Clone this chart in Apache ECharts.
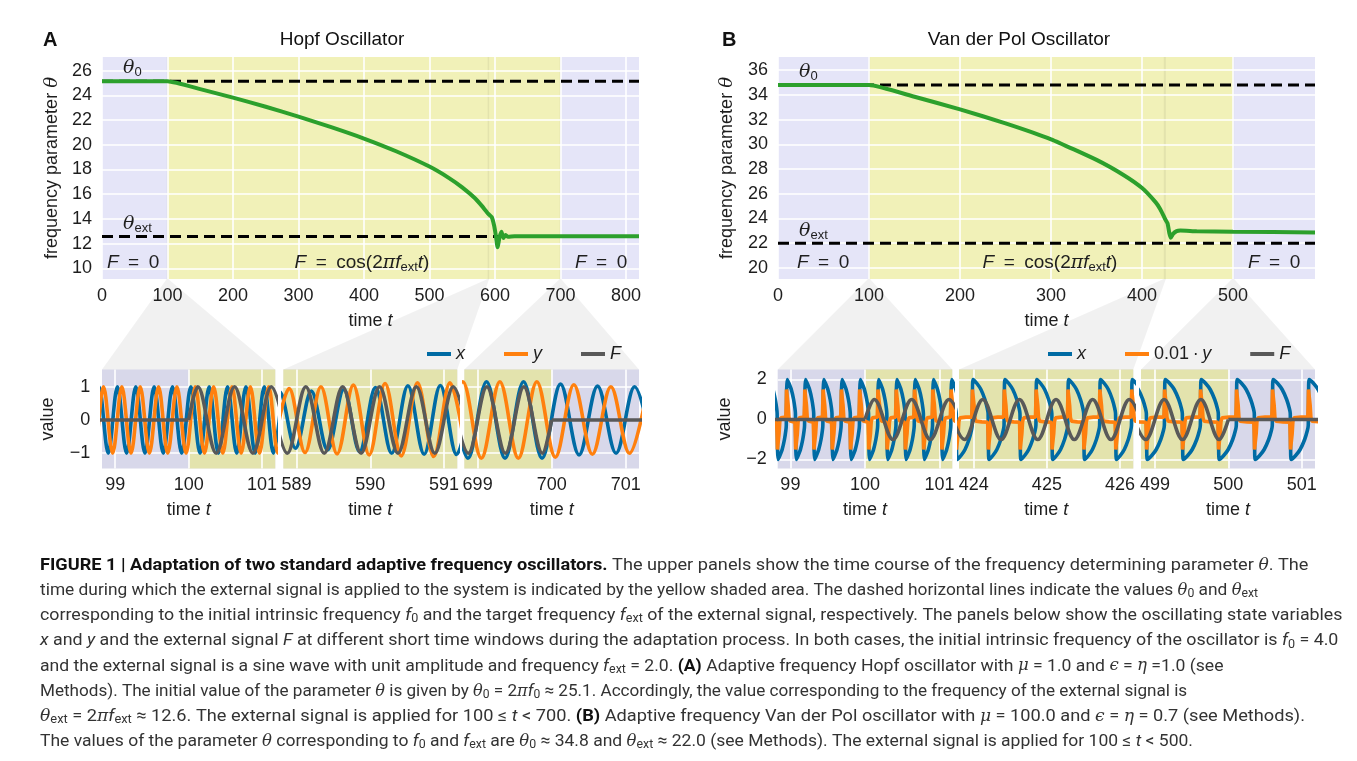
<!DOCTYPE html>
<html>
<head>
<meta charset="utf-8">
<title>Adaptive frequency oscillators</title>
<script src="https://cdn.jsdelivr.net/npm/echarts@6/dist/echarts.min.js"></script>
<style>
html, body { margin: 0; padding: 0; background: #fff; }
#main { width: 1357px; height: 761px; }
</style>
</head>
<body>
<div id="main"></div>
<script>
// ---- top panels: frequency parameter theta over time ----
var hopfTime  = [0, 100, 150, 200, 250, 300, 350, 400, 450, 500, 530, 550, 570, 580, 590, 595, 599, 601.5, 604, 607, 610, 613, 616, 620, 630, 700, 820];
var hopfTheta = [25.13, 25.13, 24.5, 23.81, 23.07, 22.28, 21.42, 20.5, 19.45, 18.23, 17.3, 16.55, 15.65, 15.05, 14.4, 14.15, 13.4, 12.6, 11.7, 12.5, 12.95, 12.45, 12.7, 12.55, 12.6, 12.6, 12.6];
var vdpTime   = [0, 100, 150, 200, 250, 300, 350, 380, 400, 415, 420, 425, 428, 430, 431.5, 434, 438, 442, 460, 500, 590];
var vdpTheta  = [34.8, 34.8, 33.85, 32.83, 31.7, 30.41, 28.74, 27.5, 26.46, 25.3, 24.75, 24.0, 23.6, 22.8, 22.43, 22.75, 22.98, 23.02, 22.96, 22.92, 22.87];

var hopfTheta0 = 25.13, hopfThetaExt = 12.57;
var vdpTheta0 = 34.8, vdpThetaExt = 22.0;

var hopfRangeX = [0, 820], hopfRangeY = [9.13, 27.1];
var vdpRangeX = [0, 590], vdpRangeY = [19.1, 37.07];
var hopfTicksX = [0, 100, 200, 300, 400, 500, 600, 700, 800];
var hopfTicksY = [10, 12, 14, 16, 18, 20, 22, 24, 26];
var vdpTicksX = [0, 100, 200, 300, 400, 500];
var vdpTicksY = [20, 22, 24, 26, 28, 30, 32, 34, 36];

// time during which the external signal is on
var hopfForcing = [[100, 700, 0]];
var vdpForcing = [[100, 500, 0]];

// ---- bottom panels: zoomed time windows ----
var hopfWindows = [[98.82, 101.18], [588.82, 591.18], [698.82, 701.18]];
var vdpWindows = [[98.83, 101.17], [423.8, 426.18], [498.81, 501.18]];
var hopfWinTicks = [[99, 100, 101], [589, 590, 591], [699, 700, 701]];
var vdpWinTicks = [[99, 100, 101], [424, 425, 426], [499, 500, 501]];
var hopfValRange = [-1.46, 1.52], vdpValRange = [-2.45, 2.5];
var hopfValTicks = [-1, 0, 1], vdpValTicks = [-2, 0, 2];

// Hopf x, y, F: extrema
var a1X = [[98.53,1],[98.655,-1],[98.78,1],[98.905,-1],[99.03,1],[99.155,-1],[99.28,1],[99.405,-1],[99.53,1],[99.655,-1],[99.78,1],[99.905,-1],[100.03,1],[100.155,-1],[100.28,1],[100.405,-1],[100.53,1],[100.655,-1],[100.78,1],[100.905,-1],[101.03,1],[101.155,-1],[101.28,1]];
var a1Y = [[98.59,1],[98.715,-1],[98.84,1],[98.965,-1],[99.09,1],[99.215,-1],[99.34,1],[99.465,-1],[99.59,1],[99.715,-1],[99.84,1],[99.965,-1],[100.09,1],[100.215,-1],[100.34,1],[100.465,-1],[100.59,1],[100.715,-1],[100.84,1],[100.965,-1],[101.09,1],[101.215,-1],[101.34,1]];
var a1Fflat = [[98.6,0],[100,0]];
var a1F = [[100,0],[100.125,1],[100.375,-1],[100.625,1],[100.875,-1],[101.125,1],[101.375,-1]];

var a2X = [[588.555,-0.85],[588.77,0.85],[588.985,-0.85],[589.2,0.87],[589.42,-0.9],[589.64,0.92],[589.855,-0.95],[590.07,0.98],[590.29,-1.0],[590.51,1.03],[590.73,-1.03],[590.95,1.04],[591.17,-1.04],[591.39,1.04]];
var a2Y = [[588.685,-0.95],[588.9,0.95],[589.115,-0.98],[589.33,1.0],[589.55,-1.02],[589.77,1.05],[589.985,-1.05],[590.2,1.1],[590.42,-1.08],[590.64,1.12],[590.86,-1.1],[591.08,1.12],[591.3,-1.1]];
var a2F = [[588.625,1],[588.875,-1],[589.125,1],[589.375,-1],[589.625,1],[589.875,-1],[590.125,1],[590.375,-1],[590.625,1],[590.875,-1],[591.125,1],[591.375,-1]];

var a3X = [[698.62,1.15],[698.87,-1.15],[699.12,1.15],[699.37,-1.15],[699.62,1.15],[699.87,-1.15],[700.12,1.08],[700.37,-1.05],[700.62,1.02],[700.87,-1.0],[701.12,1.0],[701.37,-1.0]];
var a3Y = [[698.55,-1.15],[698.8,1.15],[699.05,-1.15],[699.3,1.15],[699.55,-1.15],[699.8,1.15],[700.05,-1.12],[700.3,1.06],[700.55,-1.03],[700.8,1.0],[701.05,-1.0],[701.3,1.0]];
var a3F = [[698.625,1],[698.875,-1],[699.125,1],[699.375,-1],[699.625,1],[699.875,-1],[700,0]];
var a3Fflat = [[700,0],[701.4,0]];

// Van der Pol: times of the upward jumps of x, half period, and one cycle shape
// shape entries: [fixed offset, fraction of half period, value]
var b1Ups = [98.70, 98.945, 99.19, 99.435, 99.68, 99.925, 100.17, 100.415, 100.66, 100.905, 101.15];
var b2Ups = [423.545, 423.98, 424.415, 424.85, 425.285, 425.72, 426.155];
var b3Ups = [498.638, 499.128, 499.618, 500.108, 500.598, 501.088];
var vdpHalf = [0.1225, 0.2175, 0.245];
var vdpShapeX = [[0,0,-0.3],[0.005,0,1.5],[0.013,0,2.0],[0,0.3,1.8],[0,0.55,1.5],[0,0.8,1.0],[0,0.95,0.55],[0,1,0.3],
                 [0.005,1,-1.5],[0.013,1,-2.0],[0,1.3,-1.8],[0,1.55,-1.5],[0,1.8,-1.0],[0,1.95,-0.55]];
var vdpShapeY = [[-0.006,0,0.12],[0,0,0.9],[0.003,0,1.5],[0.018,0,1.45],[0.026,0,0.7],[0.036,0,0.1],[0.05,0,-0.08],[0,0.6,-0.12],[-0.006,1,-0.14],
                 [0,1,-0.9],[0.003,1,-1.5],[0.018,1,-1.45],[0.026,1,-0.7],[0.036,1,-0.1],[0.05,1,0.08],[0,1.6,0.12]];
var b1Fflat = [[98.6,0],[100,0]];
var b1F = [[100,0],[100.125,1],[100.375,-1],[100.625,1],[100.875,-1],[101.125,1],[101.375,-1]];
var b2F = [[423.625,1],[423.875,-1],[424.125,1],[424.375,-1],[424.625,1],[424.875,-1],[425.125,1],[425.375,-1],[425.625,1],[425.875,-1],[426.125,1],[426.375,-1]];
var b3F = [[498.625,1],[498.875,-1],[499.125,1],[499.375,-1],[499.625,1],[499.875,-1],[500,0]];
var b3Fflat = [[500,0],[501.4,0]];

var captionLines = [
  '{b|FIGURE 1 | Adaptation of two standard adaptive frequency oscillators.} The upper panels show the time course of the frequency determining parameter {g|θ}. The',
  'time during which the external signal is applied to the system is indicated by the yellow shaded area. The dashed horizontal lines indicate the values {g|θ}{s|0} and {g|θ}{s|ext}',
  'corresponding to the initial intrinsic frequency {i|f}{s|0} and the target frequency {i|f}{s|ext} of the external signal, respectively. The panels below show the oscillating state variables',
  '{i|x} and {i|y} and the external signal {i|F} at different short time windows during the adaptation process. In both cases, the initial intrinsic frequency of the oscillator is {i|f}{s|0} = 4.0',
  'and the external signal is a sine wave with unit amplitude and frequency {i|f}{s|ext} = 2.0. {b|(A)} Adaptive frequency Hopf oscillator with {g|μ} = 1.0 and {g|ϵ} = {g|η} =1.0 (see',
  'Methods). The initial value of the parameter {g|θ} is given by {g|θ}{s|0} = 2{g|π}{i|f}{s|0} ≈ 25.1. Accordingly, the value corresponding to the frequency of the external signal is',
  '{g|θ}{s|ext} = 2{g|π}{i|f}{s|ext} ≈ 12.6. The external signal is applied for 100 ≤ {i|t} < 700. {b|(B)} Adaptive frequency Van der Pol oscillator with {g|μ} = 100.0 and {g|ϵ} = {g|η} = 0.7 (see Methods).',
  'The values of the parameter {g|θ} corresponding to {i|f}{s|0} and {i|f}{s|ext} are {g|θ}{s|0} ≈ 34.8 and {g|θ}{s|ext} ≈ 22.0 (see Methods). The external signal is applied for 100 ≤ {i|t} < 500.'
];
// where each caption line ends on the page
var captionEnds = [1350, 1228, 1350, 1350, 1215, 1141, 1350, 1178];

// ---- styling ----
var FONT = '"Liberation Sans", Arial, sans-serif';
var MATH = '"DejaVu Serif", serif';
var CAP_FONT = 'Roboto, "Liberation Sans", sans-serif';
var INK = '#1e1e1e';
var LAV = '#e5e5f8', YEL = '#f1f1b8';
var BLUE = '#006ba4', ORANGE = '#ff800e', GRAY = '#595959', GREEN = '#2ca02c';

var chart = echarts.init(document.getElementById('main'), null, { renderer: 'canvas' });

function zip(a, b) { return a.map(function (v, i) { return [v, b[i]]; }); }
function relax(ups, half, shape) {
  var pts = [];
  ups.forEach(function (u) {
    shape.forEach(function (s) { pts.push([u + s[0] + s[1] * half, s[2]]); });
  });
  return pts;
}
function minus(v) { return String(v).replace('-', '\u2212'); }

var richName = {
  i: { fontSize: 18, fontStyle: 'italic', fontFamily: FONT, color: INK },
  g: { fontSize: 18, fontStyle: 'italic', fontFamily: MATH, color: INK }
};

var grids = [], xAxes = [], yAxes = [], series = [];

function addPanel(box, rx, ry, tx, ty, yName, xGap, yGap, xMargin, yMargin, showY) {
  var gi = grids.length;
  grids.push({ left: box[0], top: box[1], width: box[2], height: box[3], show: true,
    backgroundColor: LAV, borderWidth: 0 });
  xAxes.push({ type: 'value', gridIndex: gi, min: rx[0], max: rx[1], z: 2,
    axisLine: { show: false }, axisTick: { show: false, customValues: tx },
    axisLabel: { customValues: tx, margin: xMargin, fontSize: 18, color: INK, fontFamily: FONT },
    splitLine: { show: true, lineStyle: { color: '#ffffff', width: 1.6 } },
    name: 'time {i|t}', nameLocation: 'middle', nameGap: xGap,
    nameTextStyle: { fontSize: 18, color: INK, fontFamily: FONT, rich: richName } });
  yAxes.push({ type: 'value', gridIndex: gi, min: ry[0], max: ry[1], z: 2,
    axisLine: { show: false }, axisTick: { show: false, customValues: ty },
    axisLabel: { show: showY, customValues: ty, margin: yMargin, fontSize: 18, color: INK, fontFamily: FONT, formatter: minus },
    splitLine: { show: true, lineStyle: { color: '#ffffff', width: 1.6 } },
    name: yName, nameLocation: 'middle', nameGap: yGap,
    nameTextStyle: { fontSize: 18, color: INK, fontFamily: FONT, rich: richName } });
  return gi;
}

function bandSeries(gi, bands) {
  return { type: 'custom', xAxisIndex: gi, yAxisIndex: gi, z: 1, silent: true, data: bands,
    encode: { x: [0, 1], y: 2 },
    renderItem: function (params, api) {
      var cs = params.coordSys;
      var x0 = api.coord([api.value(0), api.value(2)])[0];
      var x1 = api.coord([api.value(1), api.value(2)])[0];
      var r = echarts.graphic.clipRectByRect(
        { x: x0, y: cs.y, width: x1 - x0, height: cs.height },
        { x: cs.x, y: cs.y, width: cs.width, height: cs.height });
      return r ? { type: 'rect', shape: r, style: { fill: YEL } } : null;
    } };
}

function lineSeries(gi, name, data, color, z, smooth, width, dash) {
  return { type: 'line', name: name, xAxisIndex: gi, yAxisIndex: gi, data: data,
    showSymbol: false, symbol: 'none', smooth: smooth, z: z, silent: true,
    lineStyle: { color: color, width: width || 3.6, type: dash || 'solid', cap: 'butt' },
    itemStyle: { color: color }, emphasis: { disabled: true } };
}

// top panels
var gA = addPanel([102, 57, 537, 222], hopfRangeX, hopfRangeY, hopfTicksX, hopfTicksY,
  'frequency parameter {g|θ}', 33, 41, 8, 10, true);
var gB = addPanel([778, 57, 537, 222], vdpRangeX, vdpRangeY, vdpTicksX, vdpTicksY,
  'frequency parameter {g|θ}', 33, 42, 8, 10, true);

series.push(bandSeries(gA, hopfForcing));
series.push(lineSeries(gA, 'theta0', [[hopfRangeX[0], hopfTheta0], [hopfRangeX[1], hopfTheta0]], '#000', 3, false, 3, [11, 6]));
series.push(lineSeries(gA, 'thetaExt', [[hopfRangeX[0], hopfThetaExt], [hopfRangeX[1], hopfThetaExt]], '#000', 3, false, 3, [11, 6]));
series.push(lineSeries(gA, 'theta', zip(hopfTime, hopfTheta), GREEN, 4, 0.15, 4));

series.push(bandSeries(gB, vdpForcing));
series.push(lineSeries(gB, 'theta0', [[vdpRangeX[0], vdpTheta0], [vdpRangeX[1], vdpTheta0]], '#000', 3, false, 3, [11, 6]));
series.push(lineSeries(gB, 'thetaExt', [[vdpRangeX[0], vdpThetaExt], [vdpRangeX[1], vdpThetaExt]], '#000', 3, false, 3, [11, 6]));
series.push(lineSeries(gB, 'theta', zip(vdpTime, vdpTheta), GREEN, 4, 0.15, 4));

// bottom panels
var botTop = 369.5, botH = 99;
var boxA = [[102, 173.3], [283.3, 174], [464.3, 174.7]];
var boxB = [[777.7, 174.6], [959, 174.3], [1141, 174]];
var hopfX = [a1X, a2X, a3X], hopfY = [a1Y, a2Y, a3Y], hopfF = [a1F, a2F, a3F], hopfFflat = [a1Fflat, null, a3Fflat];
var vdpUps = [b1Ups, b2Ups, b3Ups], vdpF = [b1F, b2F, b3F], vdpFflat = [b1Fflat, null, b3Fflat];
var botA = [], botB = [];

for (var k = 0; k < 3; k++) {
  var g = addPanel([boxA[k][0], botTop, boxA[k][1], botH], hopfWindows[k], hopfValRange, hopfWinTicks[k], hopfValTicks,
    k === 0 ? 'value' : '', 32.5, 44.7, 7.5, 11.7, k === 0);
  botA.push(g);
  series.push(bandSeries(g, hopfForcing));
  series.push(lineSeries(g, 'x', hopfX[k], BLUE, 3, 0.35));
  series.push(lineSeries(g, 'y', hopfY[k], ORANGE, 4, 0.35));
  series.push(lineSeries(g, 'F', hopfF[k], GRAY, 5, 0.35));
  if (hopfFflat[k]) series.push(lineSeries(g, 'F', hopfFflat[k], GRAY, 5, false));
}
for (k = 0; k < 3; k++) {
  var h = addPanel([boxB[k][0], botTop, boxB[k][1], botH], vdpWindows[k], vdpValRange, vdpWinTicks[k], vdpValTicks,
    k === 0 ? 'value' : '', 32.5, 43.7, 7.5, 11, k === 0);
  botB.push(h);
  series.push(bandSeries(h, vdpForcing));
  series.push(lineSeries(h, 'x', relax(vdpUps[k], vdpHalf[k], vdpShapeX), BLUE, 3, 0.2));
  series.push(lineSeries(h, '0.01 · y', relax(vdpUps[k], vdpHalf[k], vdpShapeY), ORANGE, 4, false));
  series.push(lineSeries(h, 'F', vdpF[k], GRAY, 5, 0.35));
  if (vdpFflat[k]) series.push(lineSeries(h, 'F', vdpFflat[k], GRAY, 5, false));
}

// ---- annotations and caption (real text) ----
var annRich = {
  g: { fontFamily: MATH, fontStyle: 'italic', fontSize: 19, fill: INK, lineHeight: 24 },
  s: { fontFamily: FONT, fontSize: 13, fill: INK, padding: [8, 0, 0, 0], lineHeight: 24 },
  i: { fontFamily: FONT, fontStyle: 'italic', fontSize: 19, fill: INK, lineHeight: 24 },
  n: { fontFamily: FONT, fontSize: 19, fill: INK, lineHeight: 24 }
};
function ann(x, y, text, align) {
  return { type: 'text', x: x, y: y, z: 6, silent: true,
    style: { text: text, rich: annRich, fontFamily: FONT, fontSize: 19, fill: INK, lineHeight: 24,
      align: align || 'left', verticalAlign: 'middle' } };
}
var F0 = '{i|F}{n|\u2002=\u20020}';
var FCOS = '{i|F}{n|\u2002=\u2002cos(2}{g|π}{i|f}{s|ext}{i|t}{n|)}';

var graphics = [
  ann(123, 68, '{g|θ}{s|0}'), ann(123, 224, '{g|θ}{s|ext}'),
  ann(107, 263, F0), ann(362, 263, FCOS, 'center'), ann(575, 263, F0),
  ann(799, 72, '{g|θ}{s|0}'), ann(799, 231, '{g|θ}{s|ext}'),
  ann(797, 263, F0), ann(1050, 263, FCOS, 'center'), ann(1248, 263, F0)
];

var CAP_SIZE = 17, CAP_Y0 = 565.5, CAP_DY = 25.2, CAP_LEFT = 40;
var capBase = { fontFamily: CAP_FONT, fontSize: CAP_SIZE };
var capRich = {
  b: { fontFamily: CAP_FONT, fontWeight: 'bold', fontSize: CAP_SIZE, fill: '#111', lineHeight: 22 },
  i: { fontFamily: CAP_FONT, fontStyle: 'italic', fontSize: CAP_SIZE, fill: '#333', lineHeight: 22 },
  g: { fontFamily: MATH, fontStyle: 'italic', fontSize: CAP_SIZE - 1, fill: '#333', lineHeight: 22 },
  s: { fontFamily: CAP_FONT, fontSize: CAP_SIZE - 5, fill: '#333', padding: [7, 0, 0, 0], lineHeight: 22 }
};
var measureCtx = document.createElement('canvas').getContext('2d');
function segWidth(text, st) {
  measureCtx.font = (st.fontStyle || 'normal') + ' ' + (st.fontWeight || 'normal') + ' ' + st.fontSize + 'px ' + st.fontFamily;
  return measureCtx.measureText(text).width;
}
function richWidth(line) {
  var re = /\{(\w+)\|([^}]*)\}/g, last = 0, m, w = 0;
  while ((m = re.exec(line))) {
    if (m.index > last) w += segWidth(line.slice(last, m.index), capBase);
    w += segWidth(m[2], capRich[m[1]]);
    last = re.lastIndex;
  }
  if (last < line.length) w += segWidth(line.slice(last), capBase);
  return w;
}
// per-line fit, damped toward a common scale so glyphs stay alike
var fits = captionLines.map(function (txt, i) { return (captionEnds[i] - CAP_LEFT) / richWidth(txt); });
var common = fits.reduce(function (a, b) { return a + b; }, 0) / fits.length;
captionLines.forEach(function (txt, i) {
  var sx = common * Math.pow(fits[i] / common, 0.45);
  graphics.push({ type: 'text', x: CAP_LEFT, y: CAP_Y0 + i * CAP_DY, scaleX: sx, z: 6, silent: true,
    style: { text: txt, rich: capRich, fontFamily: CAP_FONT, fontSize: CAP_SIZE, fill: '#333',
      lineHeight: 22, align: 'left', verticalAlign: 'middle' } });
});

var legendText = { fontSize: 18, color: INK, fontFamily: FONT,
  rich: { i: { fontSize: 18, fontStyle: 'italic', fontFamily: FONT, color: INK },
          n: { fontSize: 18, fontFamily: FONT, color: INK } } };
function legendFmt(name) {
  if (name === '0.01 · y') return '{n|0.01\u2009\u00b7\u2009}{i|y}';
  return '{i|' + name + '}';
}

var option = {
  animation: false,
  textStyle: { fontFamily: FONT },
  title: [
    { text: 'A', left: 43, top: 30, padding: 0, textStyle: { fontFamily: FONT, fontSize: 20, fontWeight: 'bold', color: '#111' } },
    { text: 'Hopf Oscillator', left: 342, top: 30, padding: 0, textAlign: 'center', textStyle: { fontFamily: FONT, fontSize: 19, fontWeight: 'normal', color: '#111' } },
    { text: 'B', left: 722, top: 30, padding: 0, textStyle: { fontFamily: FONT, fontSize: 20, fontWeight: 'bold', color: '#111' } },
    { text: 'Van der Pol Oscillator', left: 1019, top: 30, padding: 0, textAlign: 'center', textStyle: { fontFamily: FONT, fontSize: 19, fontWeight: 'normal', color: '#111' } }
  ],
  legend: [
    { data: ['x', 'y', 'F'], left: 427, top: 345, padding: 0, icon: 'rect', itemWidth: 24, itemHeight: 4,
      itemGap: 39, itemTextGap: 8, textStyle: legendText, formatter: legendFmt, selectedMode: false },
    { data: ['x', '0.01 · y', 'F'], left: 1048, top: 345, padding: 0, icon: 'rect', itemWidth: 24, itemHeight: 4,
      itemGap: 39, itemTextGap: 8, textStyle: legendText, formatter: legendFmt, selectedMode: false }
  ],
  grid: grids,
  xAxis: xAxes,
  yAxis: yAxes,
  series: series,
  graphic: graphics
};

chart.setOption(option);

// translucent zoom markers: strip in the top panel, connector and bottom panel
function px(gi, t, v) { return chart.convertToPixel({ gridIndex: gi }, [t, v]); }
function zoomMarker(topGi, topRange, botGi, win, botRange) {
  var pts = [
    px(topGi, win[0], topRange[1]), px(topGi, win[1], topRange[1]), px(topGi, win[1], topRange[0]),
    px(botGi, win[1], botRange[1]), px(botGi, win[1], botRange[0]),
    px(botGi, win[0], botRange[0]), px(botGi, win[0], botRange[1]),
    px(topGi, win[0], topRange[0])
  ];
  return { type: 'polygon', z: 1.5, silent: true, shape: { points: pts }, style: { fill: 'rgba(0,0,0,0.055)' } };
}
for (k = 0; k < 3; k++) {
  graphics.push(zoomMarker(gA, hopfRangeY, botA[k], hopfWindows[k], hopfValRange));
  graphics.push(zoomMarker(gB, vdpRangeY, botB[k], vdpWindows[k], vdpValRange));
}
chart.setOption({ graphic: graphics });

window.addEventListener('resize', chart.resize);
</script>
</body>
</html>
